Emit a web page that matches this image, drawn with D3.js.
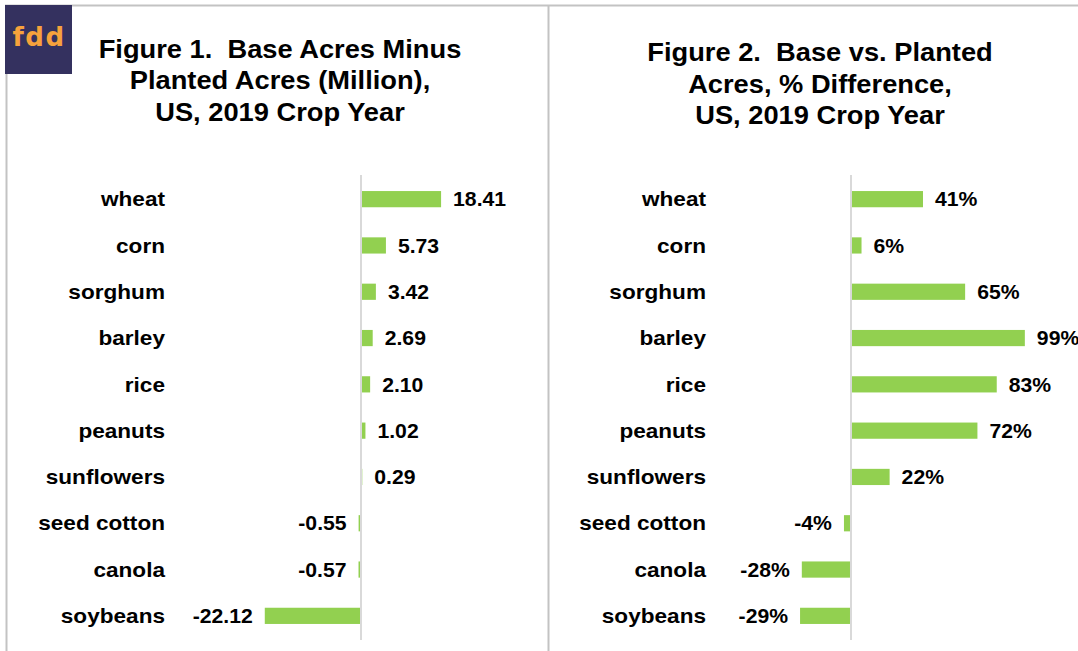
<!DOCTYPE html>
<html>
<head>
<meta charset="utf-8">
<script src="https://cdn.jsdelivr.net/npm/d3@7"></script>
<style>
  body { margin: 0; background: #fff; }
  svg { display: block; }
  text { font-family: Arial, "Liberation Sans", sans-serif; font-weight: bold; fill: #000; white-space: pre; }
</style>
</head>
<body>
<div id="chart"></div>
<script>
// crops, same order in both figures
var crops = ["wheat", "corn", "sorghum", "barley", "rice", "peanuts", "sunflowers", "seed cotton", "canola", "soybeans"];
// base minus planted acres, million
var acresDiff = [18.41, 5.73, 3.42, 2.69, 2.10, 1.02, 0.29, -0.55, -0.57, -22.12];
// base vs planted, % difference
var pctDiff = [41, 6, 65, 99, 83, 72, 22, -4, -28, -29];

var title1 = ["Figure 1.  Base Acres Minus", "Planted Acres (Million),", "US, 2019 Crop Year"];
var title2 = ["Figure 2.  Base vs. Planted", "Acres, % Difference,", "US, 2019 Crop Year"];

var width = 1078, height = 651;
var green = "#92d050", grid = "#d9d9d9", frame = "#c3c3c3";

var svg = d3.select("#chart").append("svg")
  .attr("width", width).attr("height", height);

// frame lines
svg.append("line").attr("x1", 5).attr("x2", width).attr("y1", 5.5).attr("y2", 5.5)
  .attr("stroke", frame).attr("stroke-width", 2);
svg.append("line").attr("x1", 6.5).attr("x2", 6.5).attr("y1", 5).attr("y2", height)
  .attr("stroke", frame).attr("stroke-width", 2);
svg.append("line").attr("x1", 548.5).attr("x2", 548.5).attr("y1", 5).attr("y2", height)
  .attr("stroke", frame).attr("stroke-width", 2);

// logo
svg.append("rect").attr("x", 5).attr("y", 5).attr("width", 67).attr("height", 69).attr("fill", "#34315f");
svg.append("text").attr("x", 39).attr("y", 46)
  .attr("text-anchor", "middle")
  .style("font-family", "'DejaVu Sans', sans-serif")
  .style("font-size", "26px").style("letter-spacing", "1.5px")
  .style("fill", "#f6a23c")
  .text("fdd");

var y = d3.scaleBand().domain(crops).range([176, 639]).paddingInner(0.65).paddingOuter(0.325);

// text is a bit wider in the reference, stretch it horizontally
function placed(x, yy, sx) {
  return "translate(" + x + "," + yy + ") scale(" + sx + ",1)";
}

function drawPanel(opts) {
  var g = svg.append("g");
  var x = d3.scaleLinear().domain(opts.domain).range(opts.range);

  // title
  g.selectAll(".title").data(opts.title).enter().append("text")
    .attr("transform", function(d, i) { return placed(opts.titleX, opts.titleY + i * 31.5, 1.07); })
    .attr("text-anchor", "middle")
    .style("font-size", "25.5px")
    .text(function(d) { return d; });

  var rows = crops.map(function(c, i) { return {crop: c, v: opts.values[i]}; });

  // bars
  g.selectAll(".bar").data(rows).enter().append("rect")
    .attr("x", function(d) { return Math.min(x(0), x(d.v)); })
    .attr("y", function(d) { return y(d.crop); })
    .attr("width", function(d) { return Math.abs(x(d.v) - x(0)); })
    .attr("height", y.bandwidth())
    .attr("fill", green);

  // zero line
  g.append("line")
    .attr("x1", x(0)).attr("x2", x(0))
    .attr("y1", 175).attr("y2", 640)
    .attr("stroke", grid).attr("stroke-width", 2);

  // category labels
  g.selectAll(".cat").data(rows).enter().append("text")
    .attr("transform", function(d) { return placed(opts.catX, y(d.crop) + y.bandwidth() / 2, 1.13); })
    .attr("dy", "0.36em")
    .attr("text-anchor", "end")
    .style("font-size", "20px")
    .text(function(d) { return d.crop; });

  // value labels
  g.selectAll(".val").data(rows).enter().append("text")
    .attr("transform", function(d) {
      return placed(d.v >= 0 ? x(d.v) + 12 : x(d.v) - 12, y(d.crop) + y.bandwidth() / 2, 1.06);
    })
    .attr("dy", "0.36em")
    .attr("text-anchor", function(d) { return d.v >= 0 ? "start" : "end"; })
    .style("font-size", "20px")
    .text(function(d) { return opts.fmt(d.v); });
}

drawPanel({
  values: acresDiff,
  domain: [-25, 25], range: [361 - 108.75, 361 + 108.75],
  title: title1, titleX: 280, titleY: 57.5,
  catX: 165,
  fmt: function(v) { return d3.format(".2f")(v).replace("\u2212", "-"); }
});

drawPanel({
  values: pctDiff,
  domain: [-30, 100], range: [851 - 52.7, 851 + 175.6],
  title: title2, titleX: 820, titleY: 61,
  catX: 706,
  fmt: function(v) { return v + "%"; }
});
</script>
</body>
</html>
